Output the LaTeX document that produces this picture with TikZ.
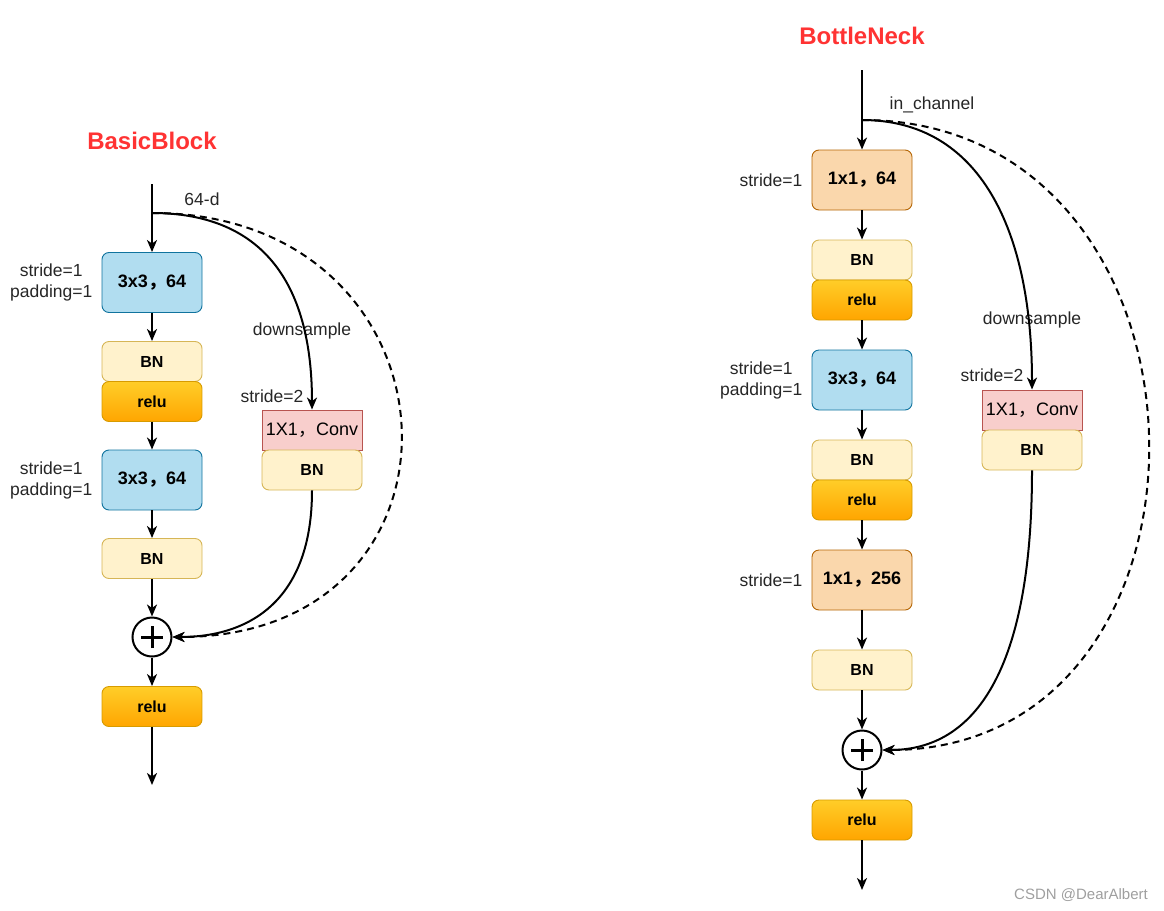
\documentclass[tikz,border=0pt]{standalone}
\usepackage{fontspec}
\setmainfont{Liberation Sans}
\newfontfamily\cjk{Noto Sans CJK SC}
\usetikzlibrary{arrows.meta}
\definecolor{convfill}{HTML}{B1DDF0}
\definecolor{convline}{HTML}{10739E}
\definecolor{bnfill}{HTML}{FFF2CC}
\definecolor{bnline}{HTML}{D6B656}
\definecolor{relutop}{HTML}{FFCD28}
\definecolor{relubot}{HTML}{FFA500}
\definecolor{reluline}{HTML}{D79B00}
\definecolor{onefill}{HTML}{FAD7AC}
\definecolor{oneline}{HTML}{B46504}
\definecolor{dsfill}{HTML}{F8CECC}
\definecolor{dsline}{HTML}{B85450}
\definecolor{titlered}{HTML}{FF3333}
\definecolor{lblgray}{HTML}{262626}
\newcommand\fwc{{\cjk ，}}
\begin{document}
\begin{tikzpicture}[x=1pt,y=-1pt,
    every node/.style={inner sep=0pt},
    blk/.style={draw, rounded corners=7pt, minimum width=100pt, line width=0.9pt},
    conv/.style={blk, fill=convfill, draw=convline, minimum height=60pt, font=\fontsize{18}{21}\selectfont\bfseries},
    onebyone/.style={conv, fill=onefill, draw=oneline},
    bn/.style={blk, fill=bnfill, draw=bnline, minimum height=40pt, font=\fontsize{16}{19}\selectfont\bfseries},
    relu/.style={blk, top color=relutop, bottom color=relubot, draw=reluline, minimum height=40pt, font=\fontsize{16}{19}\selectfont\bfseries},
    dsconv/.style={draw=dsline, fill=dsfill, line width=0.9pt, minimum width=100pt, minimum height=40pt, font=\fontsize{18}{21}\selectfont},
    addop/.style={circle, draw, line width=2pt, fill=white, minimum size=39pt,
      path picture={\draw[line width=3pt] (path picture bounding box.center) +(-11pt,0pt) -- +(11pt,0pt)
        (path picture bounding box.center) +(0pt,-11pt) -- +(0pt,11pt);}},
    lbl/.style={text=lblgray, font=\fontsize{17.5}{21}\selectfont, align=center},
    ttl/.style={text=titlered, font=\fontsize{24}{28}\selectfont\bfseries},
    arr/.style={line width=2pt, -{Stealth[length=12pt,width=10pt,inset=3.5pt]}},
    skip/.style={arr, dash pattern=on 7pt off 5pt},
]
\useasboundingbox (0,0) rectangle (1164,910);

% BasicBlock
\node[ttl] (title1) at (152,141) {BasicBlock};
\coordinate (in1) at (152,184);
\coordinate (j1) at (152,213);
\node[conv] (c1) at (152,282.5) {3x3\fwc 64};
\node[bn] (bn1) at (152,361.5) {BN};
\node[relu] (re1) at (152,401.5) {relu};
\node[conv] (c2) at (152,480) {3x3\fwc 64};
\node[bn] (bn2) at (152,558.5) {BN};
\node[addop] (add1) at (152,637) {};
\node[relu] (re2) at (152,706.5) {relu};
\coordinate (out1) at (152,785);
\node[dsconv] (ds1) at (312,430) {1X1\fwc Conv};
\node[bn] (dbn1) at (312,470) {BN};

\node[lbl, anchor=east] (s1) at ([xshift=-9pt]c1.west) {stride=1\\padding=1};
\node[lbl, anchor=east] (s2) at ([xshift=-9pt]c2.west) {stride=1\\padding=1};
\node[lbl] (d1) at (202,199) {64-d};
\node[lbl] (dl1) at (302,331) {downsample};
\node[lbl] (s3) at (272,396) {stride=2};

\draw[line width=2pt] (in1) -- (j1);
\draw[arr] (j1) -- (c1);
\draw[arr] (c1) -- (bn1);
\draw[arr] (re1) -- (c2);
\draw[arr] (c2) -- (bn2);
\draw[arr] (bn2) -- (add1);
\draw[arr] (add1) -- (re2);
\draw[arr] (re2) -- (out1);
\draw[arr] (j1) .. controls (260,213) and (312,280) .. (ds1.north);
\draw[arr] (dbn1.south) .. controls (312,600) and (250,637) .. (add1.east);
\draw[skip] (j1) .. controls (470,213) and (490,637) .. (add1.east);

% BottleNeck
\node[ttl] (title2) at (862,36) {BottleNeck};
\coordinate (in2) at (862,70);
\coordinate (j2) at (862,120);
\node[onebyone] (c3) at (862,180) {1x1\fwc 64};
\node[bn] (bn3) at (862,260) {BN};
\node[relu] (re3) at (862,300) {relu};
\node[conv] (c4) at (862,380) {3x3\fwc 64};
\node[bn] (bn4) at (862,460) {BN};
\node[relu] (re4) at (862,500) {relu};
\node[onebyone] (c5) at (862,580) {1x1\fwc 256};
\node[bn] (bn5) at (862,670) {BN};
\node[addop] (add2) at (862,750) {};
\node[relu] (re5) at (862,820) {relu};
\coordinate (out2) at (862,890);
\node[dsconv] (ds2) at (1032,410) {1X1\fwc Conv};
\node[bn] (dbn2) at (1032,450) {BN};

\node[lbl, anchor=east] (s4) at ([xshift=-9pt]c3.west) {stride=1};
\node[lbl, anchor=east] (s5) at ([xshift=-9pt]c4.west) {stride=1\\padding=1};
\node[lbl, anchor=east] (s6) at ([xshift=-9pt]c5.west) {stride=1};
\node[lbl] (d2) at (932,105) {in\_channel};
\node[lbl] (dl2) at (1032,320) {downsample};
\node[lbl] (s7) at (992,375) {stride=2};

\draw[line width=2pt] (in2) -- (j2);
\draw[arr] (j2) -- (c3);
\draw[arr] (c3) -- (bn3);
\draw[arr] (re3) -- (c4);
\draw[arr] (c4) -- (bn4);
\draw[arr] (re4) -- (c5);
\draw[arr] (c5) -- (bn5);
\draw[arr] (bn5) -- (add2);
\draw[arr] (add2) -- (re5);
\draw[arr] (re5) -- (out2);
\draw[arr] (j2) .. controls (980,120) and (1032,230) .. (ds2.north);
\draw[arr] (dbn2.south) .. controls (1032,670) and (975,750) .. (add2.east);
\draw[skip] (j2) .. controls (1235,120) and (1245,750) .. (add2.east);

\node[text=gray!75, font=\fontsize{15}{18}\selectfont] (mark) at (1081,895) {CSDN @DearAlbert};
\end{tikzpicture}
\end{document}
